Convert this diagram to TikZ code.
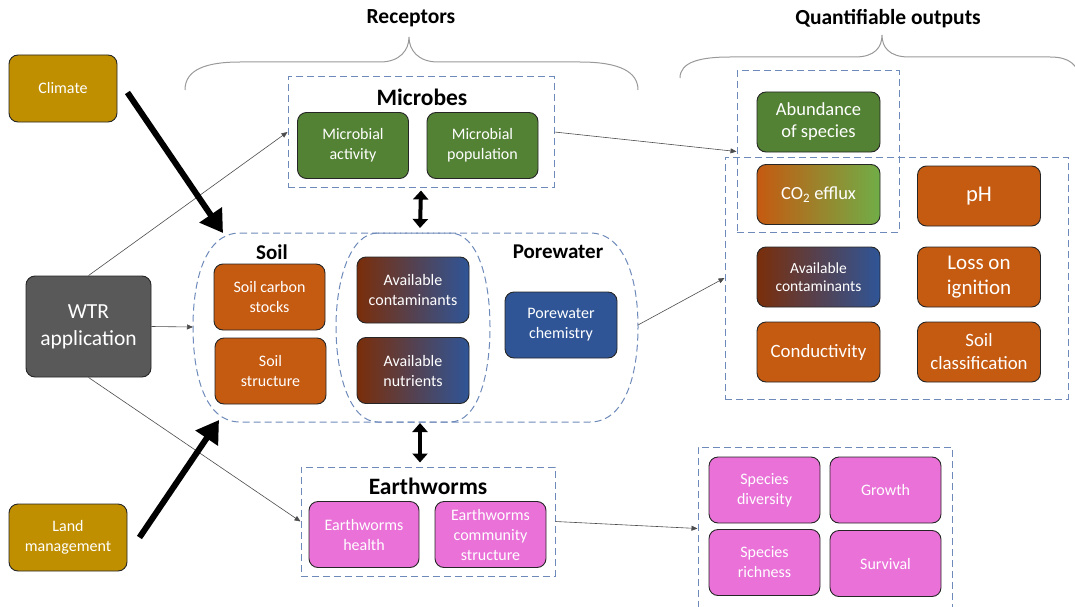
\documentclass[tikz,border=0pt]{standalone}
\usepackage{fontspec}
\setmainfont{Carlito}
\usetikzlibrary{arrows.meta}

\definecolor{goldc}{RGB}{191,143,0}
\definecolor{wtrc}{RGB}{89,89,89}
\definecolor{greenc}{RGB}{84,130,53}
\definecolor{lightgreenc}{RGB}{112,173,71}
\definecolor{orangec}{RGB}{197,90,17}
\definecolor{brownc}{RGB}{122,46,10}
\definecolor{bluec}{RGB}{47,85,151}
\definecolor{pinkc}{RGB}{233,113,216}
\definecolor{dashc}{RGB}{110,138,186}

\begin{document}
\begin{tikzpicture}[x=1pt, y=-1pt,
    box/.style={rounded corners=9pt, draw=black!85, line width=0.9pt, text=white, align=center,
      inner sep=0pt, minimum width=111pt, minimum height=66pt, font=\fontsize{16}{20}\selectfont},
    outbox/.style={box, minimum width=123pt, minimum height=60pt},
    group/.style={draw=dashc, line width=1pt, dash pattern=on 7pt off 4pt, inner sep=0pt},
    title/.style={font=\bfseries\fontsize{21}{24}\selectfont},
    bigtitle/.style={font=\bfseries\fontsize{23.5}{26}\selectfont},
    heading/.style={font=\bfseries\fontsize{21.5}{24}\selectfont},
    link/.style={draw=black!70, line width=0.6pt, -{Triangle[length=6pt,width=5pt]}},
    driver/.style={line width=6pt, -{Triangle[length=22pt,width=26pt]}},
    swap/.style={line width=4pt, {Triangle[length=9pt,width=15pt]}-{Triangle[length=9pt,width=15pt]}},
    brace/.style={draw=black!40, line width=1pt}]
  \useasboundingbox (0,0) rectangle (1075,607);

  % headings and braces
  \node[heading] (receptors) at (411,18) {Receptors};
  \node[heading] (outputs) at (888,19) {Quantifiable outputs};
  \draw[brace] (185,90) .. controls (185,70) and (205,62) .. (240,62) -- (380,62)
    .. controls (400,62) and (409,50) .. (409,37) .. controls (409,50) and (418,62) .. (438,62)
    -- (580,62) .. controls (620,62) and (638,72) .. (638,90);
  \draw[brace] (680,78) .. controls (680,62) and (700,57) .. (730,57) -- (855,57)
    .. controls (875,57) and (882,47) .. (882,35) .. controls (882,47) and (889,57) .. (909,57)
    -- (1050,57) .. controls (1070,57) and (1078,65) .. (1080,80);

  % drivers
  \node[box, fill=goldc, minimum width=108pt, minimum height=67pt] (climate) at (63,88.5) {Climate};
  \node[box, fill=goldc, minimum width=118pt, minimum height=67pt] (land) at (68,537.5) {Land\\management};
  \node[box, fill=wtrc, minimum width=125pt, minimum height=101pt,
    font=\fontsize{21.5}{27}\selectfont] (wtr) at (88.5,326.5) {WTR\\application};

  % microbes
  \node[group, minimum width=266pt, minimum height=110pt] (microbes) at (421,132) {};
  \node[bigtitle] (microbesT) at (422,97) {Microbes};
  \node[box, fill=greenc] (mact) at (353,145.5) {Microbial\\activity};
  \node[box, fill=greenc] (mpop) at (482.5,145.5) {Microbial\\population};

  % soil and porewater
  \draw[group] (240,233) -- (590,233) .. controls (625,233) and (638,280) .. (638,327)
    .. controls (638,375) and (625,422) .. (590,422) -- (240,422)
    .. controls (205,422) and (193,375) .. (193,327) .. controls (193,280) and (205,233) .. (240,233) -- cycle;
  \draw[group] (378,233) -- (450,233) .. controls (478,233) and (490,280) .. (490,327)
    .. controls (490,375) and (478,422) .. (450,422) -- (378,422)
    .. controls (350,422) and (336,375) .. (336,327) .. controls (336,280) and (350,233) .. (378,233) -- cycle;
  \coordinate (soilW) at (193,327);
  \coordinate (soilE) at (638,325);
  \node[title] (soilT) at (272,252) {Soil};
  \node[title] (poreT) at (558,252) {Porewater};
  \node[box, fill=orangec] (soilcs) at (269.5,297) {Soil carbon\\stocks};
  \node[box, fill=orangec] (soilst) at (270.5,371) {Soil\\structure};
  \node[box, left color=brownc, right color=bluec, minimum width=112pt] (acont) at (413,290) {Available\\contaminants};
  \node[box, left color=brownc, right color=bluec, minimum width=112pt] (anut) at (413,370.5) {Available\\nutrients};
  \node[box, fill=bluec, minimum width=112pt] (pchem) at (561,325) {Porewater\\chemistry};

  % earthworms
  \node[group, minimum width=254pt, minimum height=109pt] (earthworms) at (428,521.5) {};
  \node[bigtitle] (earthwormsT) at (428,486) {Earthworms};
  \node[box, fill=pinkc, minimum width=110pt] (ehealth) at (364,534.5) {Earthworms\\health};
  \node[box, fill=pinkc] (ecomm) at (490.5,534.5) {Earthworms\\community\\structure};

  % quantifiable outputs
  \node[group, minimum width=162pt, minimum height=161pt] (qtop) at (818,151.5) {};
  \node[group, minimum width=343pt, minimum height=242pt] (qbig) at (896.5,278) {};
  \node[outbox, fill=greenc, font=\fontsize{18.5}{22}\selectfont] (abund) at (818.5,122) {Abundance\\of species};
  \node[outbox, left color=orangec, right color=lightgreenc, font=\fontsize{18.5}{21}\selectfont] (co2) at (818.5,194.5) {CO\textsubscript{2} efflux};
  \node[outbox, fill=orangec, font=\fontsize{22.5}{25}\selectfont] (ph) at (979,196) {pH};
  \node[outbox, left color=brownc, right color=bluec, font=\fontsize{15.5}{18.5}\selectfont] (acont2) at (818.5,277) {Available\\contaminants};
  \node[outbox, fill=orangec, font=\fontsize{21}{25}\selectfont] (loss) at (979,277) {Loss on\\ignition};
  \node[outbox, fill=orangec, font=\fontsize{18.8}{23}\selectfont] (cond) at (818.5,352) {Conductivity};
  \node[outbox, fill=orangec, font=\fontsize{18.8}{23}\selectfont] (sclass) at (979,352) {Soil\\classification};

  \node[group, minimum width=254pt, minimum height=163pt] (eout) at (825,528.5) {};
  \node[box, fill=pinkc] (sdiv) at (764.5,490) {Species\\diversity};
  \node[box, fill=pinkc] (growth) at (885.5,490) {Growth};
  \node[box, fill=pinkc] (srich) at (764.5,562.5) {Species\\richness};
  \node[box, fill=pinkc] (surv) at (885.5,563.5) {Survival};

  % connectors
  \draw[link] (wtr.north) -- (microbes.west);
  \draw[link] (wtr.east) -- (soilW);
  \draw[link] (wtr.south) -- (earthworms.west);
  \draw[link] (microbes.east) -- (qtop.west);
  \draw[link] (soilE) -- (qbig.west);
  \draw[link] (earthworms.east) -- (eout.west);
  \draw[driver] (climate.east) ++(10,4) coordinate (climateA) -- (223,233) coordinate (climateB);
  \draw[driver] (land.east) ++(12,0) coordinate (landA) -- (219,420) coordinate (landB);
  \draw[swap] (microbes.south) ++(0,3) coordinate (swapA) -- (420,228) coordinate (swapB);
  \draw[swap] (earthworms.north) ++(-8,-4) coordinate (swapC) -- (420,423) coordinate (swapD);
\end{tikzpicture}
\end{document}
